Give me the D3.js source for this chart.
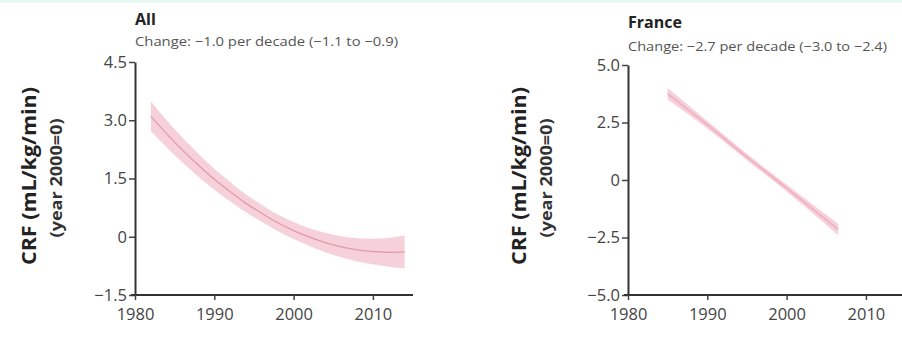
<!DOCTYPE html>
<html>
<head>
<meta charset="utf-8">
<script src="https://cdn.jsdelivr.net/npm/d3@7"></script>
<style>
  html, body { margin: 0; padding: 0; background: #fff; }
  svg { display: block; }
  .tick text { font-family: "Open Sans", sans-serif; fill: #444; }
</style>
</head>
<body>
<svg id="chart" width="902" height="341"></svg>
<script>
// Pooled trend: years, fitted CRF change and 95% band
const allYears = [1982, 1984, 1986, 1988, 1990, 1992, 1994, 1996, 1998, 2000, 2002, 2004, 2006, 2008, 2010, 2012, 2014];
const allMean  = [3.10, 2.65, 2.23, 1.84, 1.48, 1.16, 0.86, 0.60, 0.36, 0.16, -0.01, -0.15, -0.26, -0.34, -0.38, -0.40, -0.39];
const allLow   = [2.72, 2.30, 1.91, 1.54, 1.21, 0.91, 0.63, 0.38, 0.15, -0.06, -0.24, -0.40, -0.53, -0.64, -0.71, -0.77, -0.82];
const allHigh  = [3.48, 3.00, 2.55, 2.14, 1.75, 1.41, 1.09, 0.82, 0.57, 0.38, 0.22, 0.10, 0.01, -0.04, -0.05, -0.03, 0.04];

// France trend
const frYears = [1985, 1990, 1995, 2000, 2006.5];
const frMean  = [3.75, 2.40, 1.00, -0.35, -2.15];
const frLow   = [3.50, 2.24, 0.86, -0.50, -2.40];
const frHigh  = [4.00, 2.56, 1.14, -0.20, -1.90];

const allTicksY = [-1.5, 0, 1.5, 3.0, 4.5];
const frTicksY  = [-5.0, -2.5, 0, 2.5, 5.0];
const ticksX    = [1980, 1990, 2000, 2010];

const fmtY = v => v === 0 ? "0" : d3.format(".1f")(v).replace("-", "\u2212");

const panels = [
  { title: "All", note: "Change: \u22121.0 per decade (\u22121.1 to \u22120.9)",
    years: allYears, mean: allMean, low: allLow, high: allHigh,
    yDomain: [-1.5, 4.5], yTicks: allTicksY,
    left: 135, top: 62, right: 413, titleY: 25, noteY: 46, noteW: 263, labX: 28, lab2X: 56, line: true },
  { title: "France", note: "Change: \u22122.7 per decade (\u22123.0 to \u22122.4)",
    years: frYears, mean: frMean, low: frLow, high: frHigh,
    yDomain: [-5, 5], yTicks: frTicksY,
    left: 628, top: 65, right: 905, titleY: 28, noteY: 51, noteW: 259, labX: 518, lab2X: 546, line: false }
];

const svg = d3.select("#chart");
const bottom = 295;

// faint heading remnant along the top edge
svg.append("rect").attr("x", 0).attr("y", 0).attr("width", 902).attr("height", 3)
  .attr("fill", "#e3f5f3").attr("opacity", 0.8);

panels.forEach(p => {
  const x = d3.scaleLinear().domain([1980, 1980 + (p.right - p.left) / 7.93]).range([p.left, p.right]);
  const y = d3.scaleLinear().domain(p.yDomain).range([bottom, p.top]);
  const g = svg.append("g");

  const rows = p.years.map((t, i) => ({ t, m: p.mean[i], lo: p.low[i], hi: p.high[i] }));

  g.append("path").datum(rows)
    .attr("d", d3.area().x(d => x(d.t)).y0(d => y(d.lo)).y1(d => y(d.hi)).curve(d3.curveMonotoneX))
    .attr("fill", "#f6c9d3").attr("opacity", 0.85);
  g.append("path").datum(rows)
    .attr("d", d3.line().x(d => x(d.t)).y(d => y(d.m)).curve(d3.curveMonotoneX))
    .attr("fill", "none").attr("stroke", p.line ? "#e29aab" : "#f0b3c1").attr("stroke-width", p.line ? 1.3 : 2);

  // axes
  const ya = g.append("g").attr("transform", `translate(${p.left},0)`)
    .call(d3.axisLeft(y).tickValues(p.yTicks).tickFormat(fmtY).tickSize(6).tickSizeOuter(0).tickPadding(2));
  const xa = g.append("g").attr("transform", `translate(0,${bottom})`)
    .call(d3.axisBottom(x).tickValues(ticksX).tickFormat(d3.format("d")).tickSize(5).tickSizeOuter(0).tickPadding(8));
  [ya, xa].forEach(a => {
    a.select(".domain").attr("stroke", "#333").attr("stroke-width", 2);
    a.selectAll(".tick line").attr("stroke", "#444").attr("stroke-width", 1.5);
    a.selectAll(".tick text").attr("font-size", 16.5).attr("fill", "#484848");
  });
  xa.select(".domain").attr("d", `M${p.left - 4},0H${p.right}`);

  // titles
  g.append("text").attr("x", p.left).attr("y", p.titleY).text(p.title)
    .attr("font-family", "Open Sans, sans-serif").attr("font-weight", "bold").attr("font-size", 16).attr("fill", "#222");
  g.append("text").attr("x", p.left).attr("y", p.noteY).text(p.note)
    .attr("font-family", "Open Sans, sans-serif").attr("font-size", 13.5).attr("fill", "#555")
    .attr("textLength", p.noteW).attr("lengthAdjust", "spacingAndGlyphs");

  // y labels
  const cy = 176;
  g.append("text").attr("transform", `translate(${p.labX},${cy}) rotate(-90)`)
    .attr("text-anchor", "middle").attr("dominant-baseline", "central")
    .attr("font-family", "Open Sans, sans-serif").attr("font-weight", "bold").attr("font-size", 20).attr("fill", "#222")
    .attr("textLength", 178).attr("lengthAdjust", "spacingAndGlyphs")
    .text("CRF (mL/kg/min)");
  g.append("text").attr("transform", `translate(${p.lab2X},${cy + 2}) rotate(-90)`)
    .attr("text-anchor", "middle").attr("dominant-baseline", "central")
    .attr("font-family", "Open Sans, sans-serif").attr("font-weight", "bold").attr("font-size", 15.5).attr("fill", "#333")
    .attr("textLength", 119).attr("lengthAdjust", "spacingAndGlyphs")
    .text("(year 2000=0)");
});
</script>
</body>
</html>
